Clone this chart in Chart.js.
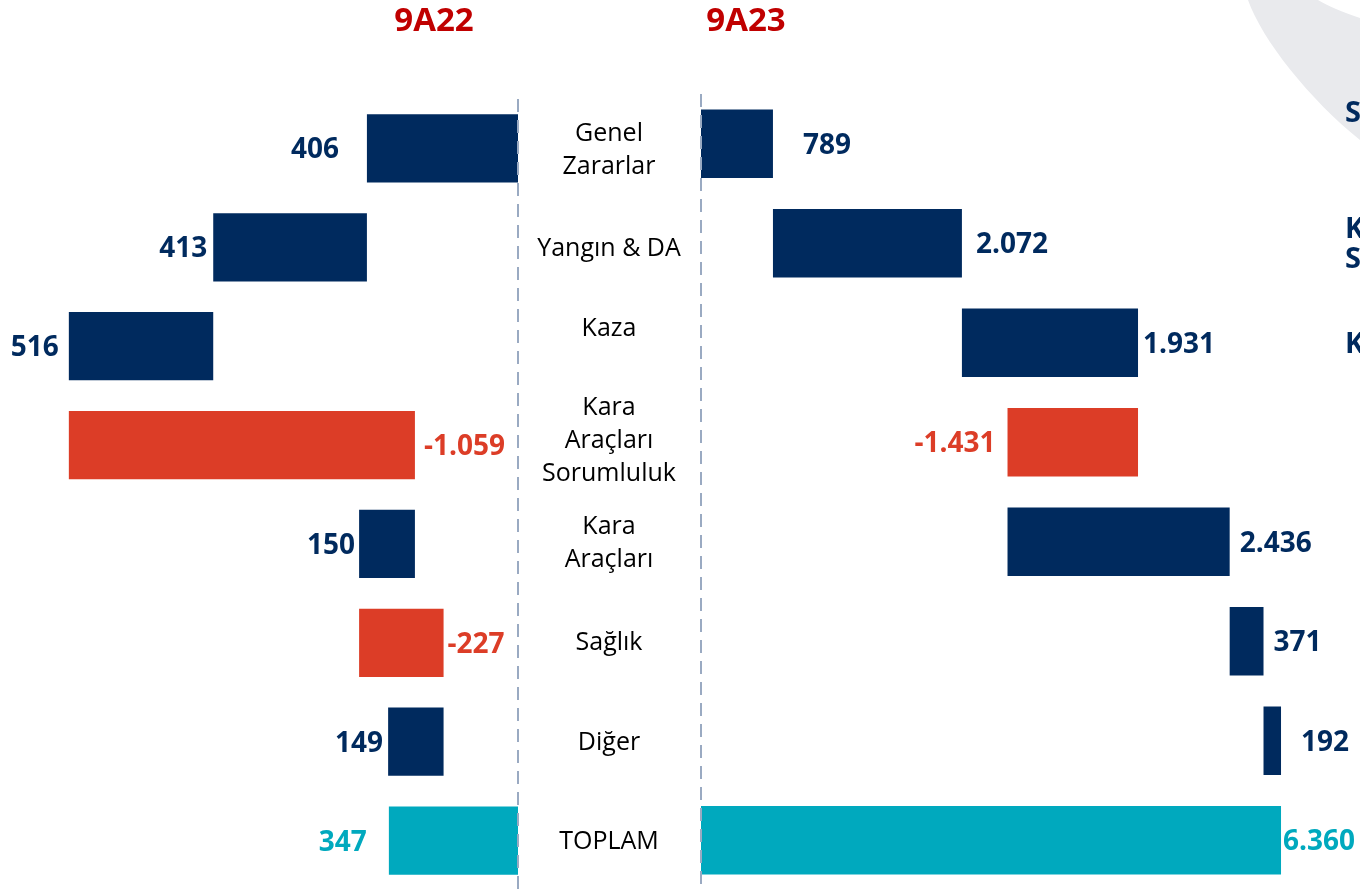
<!DOCTYPE html>
<html lang="tr">
<head>
<meta charset="UTF-8">
<title>9A22 / 9A23</title>
<script src="https://cdn.jsdelivr.net/npm/chart.js"></script>
<style>
    body { margin: 0; background: #fff; }
    .wrap { position: relative; width: 1360px; height: 890px; overflow: hidden; }
    .wrap canvas { position: absolute; left: 0; top: 0; }
</style>
</head>
<body>
<div class="wrap">
    <canvas id="chart22" width="1360" height="890"></canvas>
    <canvas id="chart23" width="1360" height="890"></canvas>
</div>
<script>
    // kategoriler (orta sütun)
    const categories = [['Genel', 'Zararlar'], ['Yangın & DA'], ['Kaza'], ['Kara', 'Araçları', 'Sorumluluk'],
        ['Kara', 'Araçları'], ['Sağlık'], ['Diğer'], ['TOPLAM']];

    // 9A22 değerleri ve çubuk aralıkları
    const values22 = [406, 413, 516, -1059, 150, -227, 149, 347];
    const from22 = [0, 406, 819, 1207, 277, 427, 200, 0];
    const to22 = [406, 819, 1207, 277, 427, 200, 349, 347];

    // 9A23 değerleri ve çubuk aralıkları
    const values23 = [789, 2072, 1931, -1431, 2436, 371, 192, 6360];
    const from23 = [0, 789, 2861, 4792, 3361, 5797, 6168, 0];
    const to23 = [789, 2861, 4792, 3361, 5797, 6168, 6360, 6360];

    const titles = ['9A22', '9A23'];

    const NAVY = '#002a5e', RED = '#dc3d27', TEAL = '#00a9be', TITLE_RED = '#c00000';
    const FONT = '"Open Sans", "Noto Sans", sans-serif';

    // etiket ile çubuk arası boşluk (px)
    const gaps22 = [28, 6, 10, 9, 4, 4, 5, 22];
    const gaps23 = [30, 14, 5, 12, 10, 10, 20, 2];
    // orta yazıların dikey kayması (px)
    const centerNudge = [5, 4, -16, -3, 0, 0, 0, 0];

    function barColor(values, i) {
        if (i === values.length - 1) return TEAL;
        return values[i] < 0 ? RED : NAVY;
    }

    function fmt(v) {
        const s = Math.abs(v).toString().replace(/\B(?=(\d{3})+(?!\d))/g, '.');
        return (v < 0 ? '-' : '') + s;
    }

    function dashedZero(color) {
        return {
            id: 'dashedZero',
            afterDatasetsDraw(chart) {
                const ctx = chart.ctx;
                const x = chart.scales.x.getPixelForValue(0);
                ctx.save();
                ctx.strokeStyle = color;
                ctx.lineWidth = 2;
                ctx.setLineDash([13, 8]);
                ctx.beginPath();
                ctx.moveTo(x, chart.chartArea.top);
                ctx.lineTo(x, chart.chartArea.bottom);
                ctx.stroke();
                ctx.restore();
            }
        };
    }

    function valueLabels(values, from, to, gaps) {
        return {
            id: 'valueLabels',
            afterDatasetsDraw(chart) {
                const ctx = chart.ctx;
                const xs = chart.scales.x;
                const ys = chart.scales.y;
                ctx.save();
                ctx.font = 'bold 28px ' + FONT;
                ctx.textBaseline = 'alphabetic';
                values.forEach((v, i) => {
                    const p0 = xs.getPixelForValue(from[i]);
                    const p1 = xs.getPixelForValue(to[i]);
                    const dir = p1 >= p0 ? 1 : -1;
                    ctx.fillStyle = barColor(values, i);
                    ctx.textAlign = dir > 0 ? 'left' : 'right';
                    ctx.fillText(fmt(v), p1 + dir * gaps[i], ys.getPixelForValue(i) + 10);
                });
                ctx.restore();
            }
        };
    }

    function makeChart(id, values, from, to, max, reverse, padding, plugins) {
        return new Chart(document.getElementById(id), {
            type: 'bar',
            data: {
                labels: categories,
                datasets: [{
                    data: from.map((f, i) => [f, to[i]]),
                    backgroundColor: values.map((v, i) => barColor(values, i)),
                    borderWidth: 0,
                    barPercentage: 0.69,
                    categoryPercentage: 1
                }]
            },
            options: {
                indexAxis: 'y',
                responsive: false,
                animation: false,
                layout: { padding: padding },
                scales: {
                    x: { type: 'linear', min: 0, max: max, reverse: reverse, display: false },
                    y: { display: false }
                },
                plugins: {
                    legend: { display: false },
                    tooltip: { enabled: false }
                }
            },
            plugins: plugins
        });
    }

    // arka plandaki gri kavis
    const swoosh = {
        id: 'swoosh',
        beforeDraw(chart) {
            const ctx = chart.ctx;
            ctx.save();
            ctx.fillStyle = '#e9eaed';
            ctx.beginPath();
            ctx.moveTo(1248, 0);
            ctx.bezierCurveTo(1262, 40, 1310, 100, 1360, 140);
            ctx.lineTo(1360, 18);
            ctx.bezierCurveTo(1342, 12, 1328, 6, 1318, 0);
            ctx.closePath();
            ctx.fill();
            ctx.restore();
        }
    };

    const centerText = {
        id: 'centerText',
        afterDraw(chart) {
            const ctx = chart.ctx;
            const ys = chart.scales.y;
            const cx = chart.scales.x.getPixelForValue(0) - 92;
            ctx.save();
            ctx.fillStyle = '#000';
            ctx.font = '25px ' + FONT;
            ctx.textAlign = 'center';
            ctx.textBaseline = 'alphabetic';
            categories.forEach((lines, i) => {
                const y0 = ys.getPixelForValue(i) - (lines.length - 1) * 33 / 2 + 9 + centerNudge[i];
                lines.forEach((t, k) => ctx.fillText(t, cx, y0 + k * 33));
            });

            // başlıklar
            ctx.fillStyle = TITLE_RED;
            ctx.font = 'bold 33px ' + FONT;
            ctx.fillText(titles[0], 434, 31);
            ctx.fillText(titles[1], 746, 31);

            // sağ kenarda kesilmiş yazılar
            ctx.fillStyle = NAVY;
            ctx.font = 'bold 29px ' + FONT;
            ctx.textAlign = 'left';
            ctx.fillText('S', 1345, 122);
            ctx.fillText('K', 1345, 238);
            ctx.fillText('S', 1345, 268);
            ctx.fillText('K', 1345, 353);
            ctx.restore();
        }
    };

    makeChart('chart22', values22, from22, to22, 1392, true,
        { left: 0, right: 842, top: 99, bottom: 0 },
        [swoosh, dashedZero('#9aaac2'), valueLabels(values22, from22, to22, gaps22)]);

    makeChart('chart23', values23, from23, to23, 7226, false,
        { left: 701, right: 0, top: 94, bottom: 0 },
        [dashedZero('#9aaac2'), valueLabels(values23, from23, to23, gaps23), centerText]);
</script>
</body>
</html>
